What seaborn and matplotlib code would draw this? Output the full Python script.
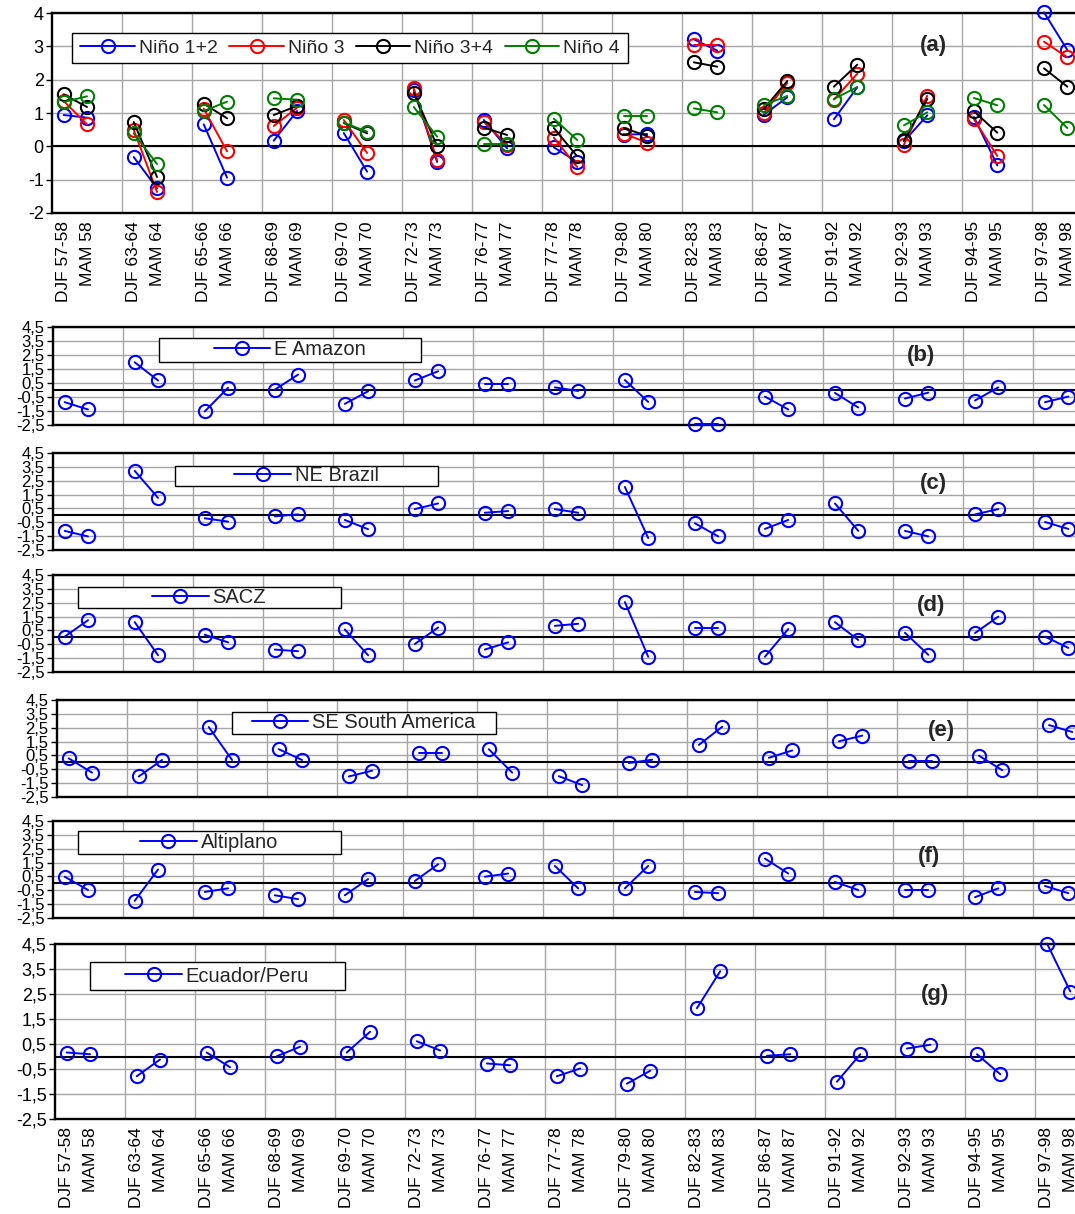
import numpy as np
import pandas as pd
import matplotlib
matplotlib.use("Agg")
import matplotlib.pyplot as plt
from matplotlib.lines import Line2D
from matplotlib.patches import Rectangle
from matplotlib.ticker import FuncFormatter
import seaborn as sns

# ---------------------------------------------------------------- data
events = ["57-58", "63-64", "65-66", "68-69", "69-70", "72-73", "76-77",
          "77-78", "79-80", "82-83", "86-87", "91-92", "92-93", "94-95", "97-98"]

# values come in (DJF, MAM) pairs, one pair per event
nino12 = [0.94, 0.86, -0.32, -1.26, 0.66, -0.94, 0.17, 1.06, 0.40, -0.76,
          1.70, -0.47, 0.79, -0.06, -0.03, -0.47, 0.35, 0.37, 3.21, 2.87,
          0.95, 1.47, 0.81, 1.77, 0.15, 0.93, 0.88, -0.57, 4.02, 2.89]
nino3 = [1.36, 0.66, 0.50, -1.37, 1.13, -0.15, 0.61, 1.16, 0.79, -0.20,
         1.74, -0.42, 0.73, 0.05, 0.26, -0.62, 0.38, 0.11, 3.05, 3.05,
         1.00, 1.90, 1.40, 2.18, 0.05, 1.52, 0.81, -0.29, 3.14, 2.67]
nino34 = [1.56, 1.18, 0.73, -0.92, 1.28, 0.84, 0.94, 1.21, 0.70, 0.39,
          1.61, 0.01, 0.56, 0.34, 0.55, -0.30, 0.55, 0.31, 2.52, 2.39,
          1.12, 1.96, 1.79, 2.45, 0.18, 1.42, 1.05, 0.41, 2.34, 1.79]
nino4 = [1.33, 1.50, 0.39, -0.53, 1.06, 1.34, 1.44, 1.40, 0.71, 0.44,
         1.18, 0.29, 0.07, 0.07, 0.83, 0.19, 0.91, 0.91, 1.14, 1.02,
         1.24, 1.51, 1.42, 1.78, 0.63, 1.02, 1.45, 1.23, 1.24, 0.55]

e_amazon = [-0.87, -1.39, 1.98, 0.68, -1.53, 0.16, 0.02, 1.10, -0.99, -0.09,
            0.68, 1.34, 0.45, 0.45, 0.19, -0.07, 0.71, -0.85, -2.45, -2.45,
            -0.47, -1.39, -0.21, -1.25, -0.61, -0.19, -0.75, 0.19, -0.87, -0.47]
ne_brazil = [-1.12, -1.52, 3.21, 1.26, -0.21, -0.45, -0.07, 0.07, -0.33, -1.00,
             0.45, 0.86, 0.19, 0.31, 0.45, 0.19, 2.05, -1.64, -0.57, -1.52,
             -0.98, -0.33, 0.86, -1.12, -1.12, -1.52, 0.07, 0.45, -0.48, -0.98]
sacz = [0.05, 1.24, 1.10, -1.29, 0.19, -0.36, -0.88, -1.00, 0.57, -1.29,
        -0.48, 0.71, -0.88, -0.36, 0.83, 0.98, 2.55, -1.40, 0.69, 0.69,
        -1.40, 0.60, 1.10, -0.19, 0.33, -1.26, 0.31, 1.50, 0.05, -0.76]
se_south_america = [0.29, -0.74, -1.02, 0.17, 2.55, 0.17, 0.95, 0.17, -1.02, -0.60,
                    0.69, 0.69, 0.95, -0.74, -1.00, -1.64, -0.05, 0.19, 1.26, 2.57,
                    0.33, 0.86, 1.52, 1.93, 0.07, 0.07, 0.48, -0.57, 2.69, 2.19]
altiplano = [0.48, -0.48, -1.26, 1.00, -0.62, -0.36, -0.86, -1.14, -0.86, 0.31,
             0.17, 1.38, 0.48, 0.71, 1.26, -0.36, -0.36, 1.26, -0.62, -0.71,
             1.79, 0.71, 0.10, -0.48, -0.48, -0.48, -1.00, -0.36, -0.19, -0.71]
ecuador_peru = [0.16, 0.09, -0.79, -0.12, 0.16, -0.43, 0.01, 0.39, 0.16, 0.99,
                0.61, 0.24, -0.28, -0.35, -0.79, -0.48, -1.09, -0.57, 1.93, 3.41,
                0.03, 0.09, -1.01, 0.09, 0.32, 0.47, 0.09, -0.71, 4.52, 2.60]

nino_names = ["Niño 1+2", "Niño 3", "Niño 3+4", "Niño 4"]
nino_colors = ["#0000ff", "#ff0000", "#000000", "#008000"]

# ---------------------------------------------------------------- helpers
# each event occupies three category slots: DJF, MAM and an empty spacer
positions = [3 * i + k for i in range(len(events)) for k in (0, 1)]
tick_labels = []
for ev in events:
    tick_labels += [f"DJF {ev}", f"MAM {ev[-2:]}"]


def to_frame(values):
    return pd.DataFrame({
        "pos": positions,
        "value": values,
        "event": [i for i in range(len(events)) for _ in (0, 1)],
    })


sns.set_style("white")
plt.rcParams["font.family"] = ["Liberation Sans", "DejaVu Sans"]

W, H = 1075, 1214
fig = plt.figure(figsize=(W / 100, H / 100), dpi=100)
fig.patch.set_facecolor("white")

GRID = "#a6a6a6"
MS = 9.5
LW = 1.4
MEW = 1.5


def make_axes(left, top, bottom, ylim, yticks, fmt, ysize):
    ax = fig.add_axes([left / W, 1 - bottom / H, 1027 / W, (bottom - top) / H])
    ax.set_xlim(-0.5, 3 * len(events) - 1.5)
    ax.set_ylim(*ylim)
    ax.set_yticks(yticks)
    ax.yaxis.set_major_formatter(FuncFormatter(fmt))
    ax.tick_params(axis="y", direction="out", length=4, width=1,
                   labelsize=ysize, pad=2, left=True, colors="black")
    for k in range(1, len(events)):
        ax.axvline(3 * k - 0.5, color=GRID, lw=1, zorder=0)
    for y in yticks:
        ax.axhline(y, color=GRID, lw=1, zorder=0)
    ax.axhline(0, color="black", lw=1.5, zorder=1)
    for s in ("left", "bottom", "top"):
        ax.spines[s].set_visible(True)
        ax.spines[s].set_color("black")
        ax.spines[s].set_linewidth(1.7)
    ax.spines["right"].set_visible(False)
    ax.set_xticks([])
    ax.set_xlabel("")
    ax.set_ylabel("")
    return ax


def draw_series(ax, values, color):
    sns.lineplot(data=to_frame(values), x="pos", y="value", units="event",
                 estimator=None, sort=False, color=color, lw=LW,
                 marker="o", markersize=MS, mfc="none", mec=color, mew=MEW,
                 legend=False, ax=ax, clip_on=False, zorder=3)
    ax.set_xlabel("")
    ax.set_ylabel("")


def handle(color):
    return Line2D([], [], color=color, lw=LW, marker="o", markersize=MS,
                  mfc="none", mec=color, mew=MEW)


def boxed_legend(ax, x0, x1, y0, y1, handles, labels, ncol=1, size=14.5):
    ax.add_patch(Rectangle((x0, y0), x1 - x0, y1 - y0, transform=ax.transAxes,
                           facecolor="white", edgecolor="black", lw=1.0,
                           zorder=5, clip_on=False))
    leg = ax.legend(handles, labels, loc="center",
                    bbox_to_anchor=((x0 + x1) / 2, (y0 + y1) / 2),
                    frameon=False, ncol=ncol, fontsize=size, handlelength=2.8,
                    handletextpad=0.2, columnspacing=0.6, borderpad=0)
    leg.set_zorder(6)


def panel_tag(ax, text, x, y):
    ax.text(x, y, text, transform=ax.transAxes, ha="center", va="center",
            fontsize=16, fontweight="bold", zorder=6)


int_fmt = lambda v, p: f"{v:.0f}"
dec_fmt = lambda v, p: f"{v:.1f}".replace(".", ",")
half_ticks = np.arange(-2.5, 4.6, 1.0)

# ---------------------------------------------------------------- (a)
ax_a = make_axes(52, 13, 213, (-2, 4), np.arange(-2, 4.1, 1), int_fmt, 13)
for vals, col in zip([nino12, nino3, nino34, nino4], nino_colors):
    draw_series(ax_a, vals, col)
boxed_legend(ax_a, 0.0195, 0.561, 0.75, 0.90,
             [handle(c) for c in nino_colors], nino_names, ncol=4, size=14)
panel_tag(ax_a, "(a)", 0.858, 0.84)

# ---------------------------------------------------------------- (b)-(f)
regional = [
    ("E Amazon", e_amazon, 53, 327, 425, (0.103, 0.358, 0.643, 0.888), "(b)", (0.845, 0.714)),
    ("NE Brazil", ne_brazil, 53, 453, 550, (0.119, 0.375, 0.660, 0.866), "(c)", (0.857, 0.690)),
    ("SACZ", sacz, 53, 575, 672, (0.024, 0.280, 0.660, 0.876), "(d)", (0.855, 0.690)),
    ("SE South America", se_south_america, 57, 700, 797, (0.170, 0.427, 0.650, 0.876), "(e)", (0.861, 0.690)),
    ("Altiplano", altiplano, 53, 821, 918, (0.024, 0.280, 0.660, 0.897), "(f)", (0.853, 0.630)),
]
for name, vals, left, top, bottom, box, tag, tag_xy in regional:
    ax = make_axes(left, top, bottom, (-2.5, 4.5), half_ticks, dec_fmt, 12)
    draw_series(ax, vals, "#0000ff")
    boxed_legend(ax, *box, [handle("#0000ff")], [name])
    panel_tag(ax, tag, *tag_xy)

# ---------------------------------------------------------------- (g)
ax_g = make_axes(55, 944, 1119, (-2.5, 4.5), half_ticks, dec_fmt, 13)
draw_series(ax_g, ecuador_peru, "#0000ff")
boxed_legend(ax_g, 0.034, 0.282, 0.737, 0.897, [handle("#0000ff")], ["Ecuador/Peru"])
panel_tag(ax_g, "(g)", 0.857, 0.71)

# category labels under (a) and (g)
for ax in (ax_a, ax_g):
    ax.set_xticks(positions)
    ax.set_xticklabels(tick_labels, rotation=90, fontsize=12.5, va="top", ha="center")
    ax.tick_params(axis="x", length=0, pad=6, colors="black")

fig.savefig("out.png", dpi=100, facecolor="white")
